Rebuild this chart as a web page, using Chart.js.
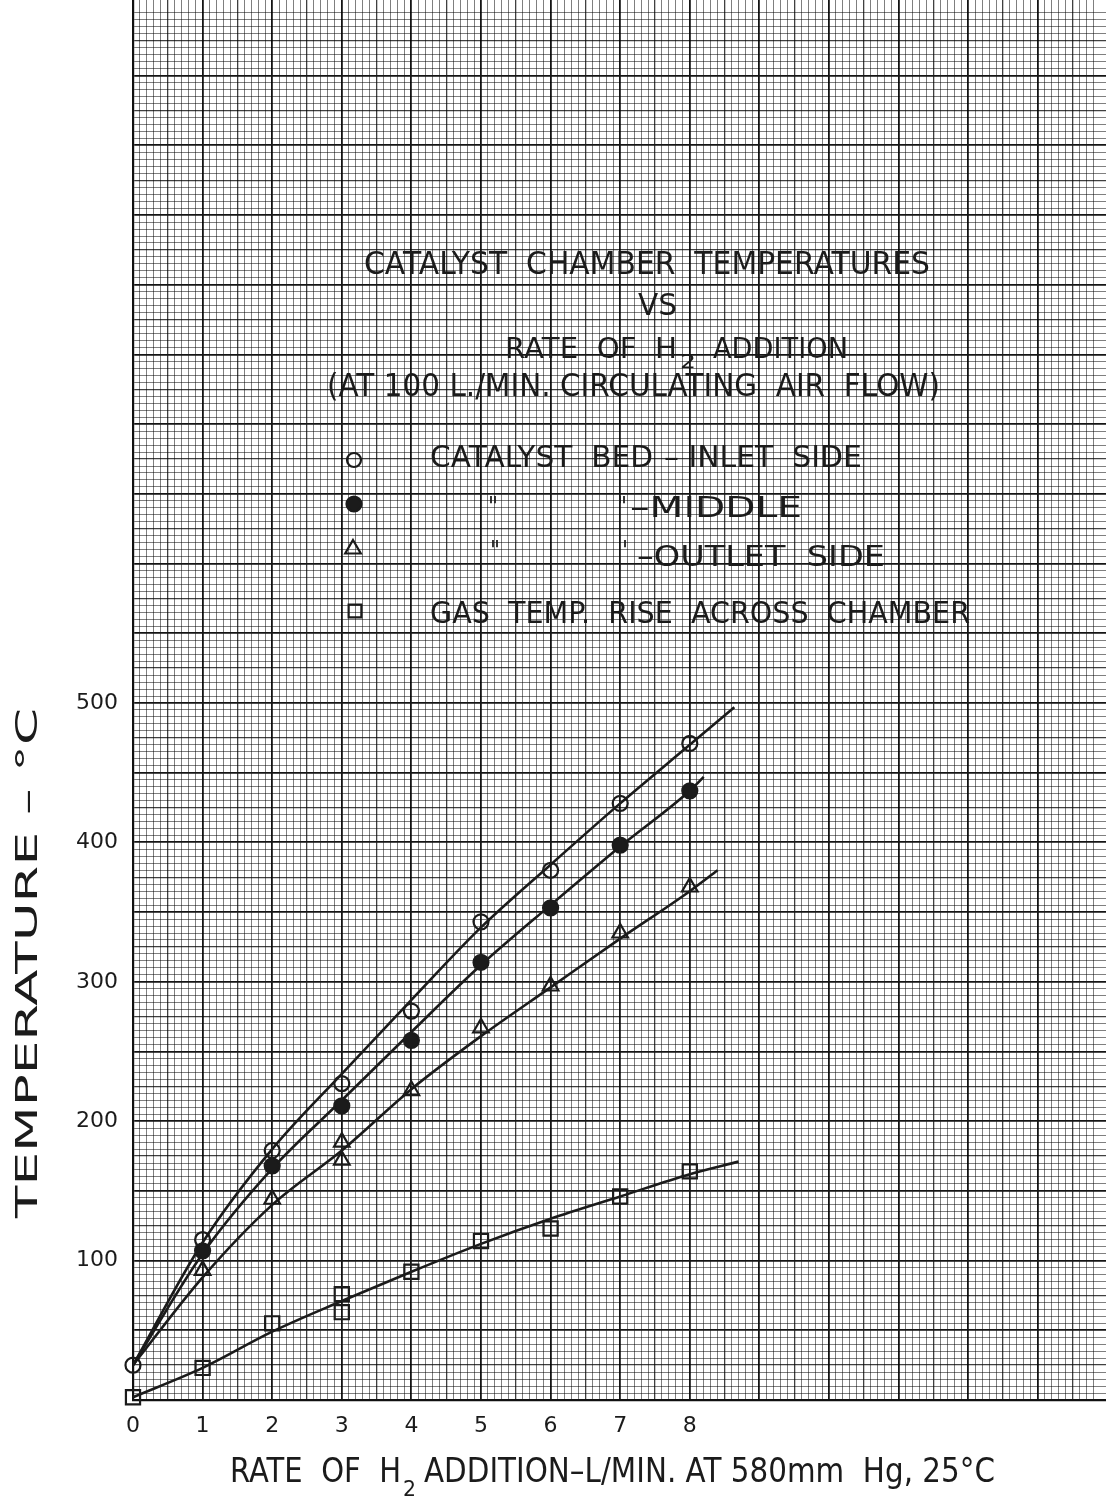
<!DOCTYPE html>
<html><head><meta charset="utf-8">
<script src="https://cdn.jsdelivr.net/npm/chart.js@4.4.0/dist/chart.umd.min.js"></script>
<style>html,body{margin:0;padding:0;background:#fff;}canvas{display:block;}</style>
</head><body>
<canvas id="c" width="1106" height="1497"></canvas>
<script>
// ---- measured points ----
const rateInlet  = [0, 1, 2, 3, 4, 5, 6, 7, 8];
const tempInlet  = [25, 115, 179, 227, 279, 343, 380, 428, 471];
const rateMiddle = [1, 2, 3, 4, 5, 6, 7, 8];
const tempMiddle = [107, 168, 211, 258, 314, 353, 398, 437];
const rateOutlet = [1, 2, 3, 3, 4, 5, 6, 7, 8];
const tempOutlet = [93, 144, 185, 172, 222, 267, 297, 335, 368];
const rateGas    = [0, 1, 2, 3, 3, 4, 5, 6, 7, 8];
const riseGas    = [2, 23, 55, 76, 63, 92, 114, 123, 146, 164];

// ---- hand-faired curves ----
const curveInletX  = [0, 1, 2, 3, 4, 5, 6, 7, 8, 8.64];
const curveInletY  = [25, 113, 180, 234, 287, 339, 384, 428, 470, 497];
const curveMiddleX = [0, 1, 2, 3, 4, 5, 6, 7, 8, 8.2];
const curveMiddleY = [25, 105, 166, 215, 264, 312, 355, 397, 437, 447];
const curveOutletX = [0, 1, 2, 3, 4, 5, 6, 7, 8, 8.4];
const curveOutletY = [25, 88, 140, 179, 223, 261, 296, 331, 365, 380];
const curveGasX    = [0, 1, 2, 3, 4, 5, 6, 7, 8, 8.7];
const curveGasY    = [2, 23, 49, 71, 92, 112, 130, 146, 162, 171];

// ---- tick labels ----
const xTickLabels = ['0', '1', '2', '3', '4', '5', '6', '7', '8'];
const yTickLabels = ['100', '200', '300', '400', '500'];

const INK = '#1b1b1b';
const FONT = '"DejaVu Sans", "Liberation Sans", sans-serif';

const pts = (xs, ys) => xs.map((x, i) => ({x: x, y: ys[i]}));
const near = (v, m) => Math.abs(v / m - Math.round(v / m)) < 1e-6;

function gridColor(v, major, half, minor) {
  if (near(v, major)) return '#151515';
  if (near(v, half)) return 'rgba(0,0,0,0.75)';
  if (near(v, minor)) return 'rgba(0,0,0,0.5)';
  return 'rgba(0,0,0,0)';
}
function gridWidth(v, major, half) {
  if (near(v, major)) return 1.8;
  if (near(v, half)) return 1.3;
  return 1;
}

function curve(xs, ys) {
  return {type: 'line', data: pts(xs, ys), borderColor: INK, borderWidth: 2.6,
    pointRadius: 0, cubicInterpolationMode: 'monotone', fill: false, order: 2};
}
function marks(xs, ys, style, r, fillC) {
  return {type: 'line', data: pts(xs, ys), showLine: false, pointStyle: style,
    pointRadius: r, pointBorderWidth: 2.2, pointBorderColor: INK,
    pointBackgroundColor: fillC, order: 1, clip: false};
}

function drawFit(ctx, text, x0, x1, base, cap) {
  const size = cap / 0.73;
  ctx.save();
  ctx.font = size + 'px ' + FONT;
  ctx.textAlign = 'left';
  ctx.textBaseline = 'alphabetic';
  const w = ctx.measureText(text).width;
  ctx.translate(x0, base);
  ctx.scale((x1 - x0) / w, 1);
  ctx.fillStyle = INK;
  ctx.fillText(text, 0, 0);
  ctx.restore();
}
function drawMark(ctx, style, r, x, y, fillC) {
  ctx.save();
  ctx.strokeStyle = INK;
  ctx.fillStyle = fillC;
  ctx.lineWidth = 2.2;
  Chart.helpers.drawPoint(ctx, {pointStyle: style, radius: r, borderWidth: 2.2, rotation: 0}, x, y);
  ctx.restore();
}

const textPlugin = {
  id: 'lettering',
  afterDraw(chart) {
    const ctx = chart.ctx;
    // title block
    drawFit(ctx, 'CATALYST  CHAMBER  TEMPERATURES', 364, 930, 274, 23);
    drawFit(ctx, 'VS', 638, 677, 315, 22);
    drawFit(ctx, 'RATE  OF  H', 505, 677, 358, 21);
    drawFit(ctx, '2', 680, 696, 368, 14);
    drawFit(ctx, 'ADDITION', 713, 848, 358, 21);
    drawFit(ctx, '(AT 100 L./MIN. CIRCULATING  AIR  FLOW)', 327, 940, 396, 23);
    // legend
    drawMark(ctx, 'circle', 7, 354, 460, 'rgba(0,0,0,0)');
    drawMark(ctx, 'circle', 7.5, 354, 504, INK);
    drawMark(ctx, 'triangle', 9, 353, 549, 'rgba(0,0,0,0)');
    drawMark(ctx, 'rect', 9, 355, 611, 'rgba(0,0,0,0)');
    drawFit(ctx, 'CATALYST  BED', 430, 653, 467, 22);
    drawFit(ctx, '\u2013 INLET  SIDE', 664, 862, 467, 22);
    drawFit(ctx, '"', 488, 498, 516, 20);
    drawFit(ctx, '"', 617, 627, 516, 20);
    drawFit(ctx, '\u2013MIDDLE', 630, 802, 517, 21);
    drawFit(ctx, '"', 490, 500, 560, 20);
    drawFit(ctx, "'", 622, 628, 560, 20);
    drawFit(ctx, '\u2013OUTLET  SIDE', 637, 885, 566, 21);
    drawFit(ctx, 'GAS  TEMP.  RISE  ACROSS  CHAMBER', 430, 970, 623, 22);
    // axis titles
    ctx.save();
    ctx.translate(37, 1218);
    ctx.rotate(-Math.PI / 2);
    drawFit(ctx, 'TEMPERATURE \u2013 \u00B0C', 0, 510, 0, 22);
    ctx.restore();
    drawFit(ctx, 'RATE  OF  H', 230, 401, 1482, 24);
    drawFit(ctx, '2', 403, 416, 1496, 16);
    drawFit(ctx, 'ADDITION\u2013L/MIN. AT 580mm  Hg, 25\u00B0C', 424, 995, 1482, 24);
  }
};

new Chart(document.getElementById('c'), {
  data: {
    datasets: [
      marks(rateInlet, tempInlet, 'circle', 7.5, 'rgba(0,0,0,0)'),
      marks(rateMiddle, tempMiddle, 'circle', 7.5, INK),
      marks(rateOutlet, tempOutlet, 'triangle', 9, 'rgba(0,0,0,0)'),
      marks(rateGas, riseGas, 'rect', 10, 'rgba(0,0,0,0)'),
      curve(curveInletX, curveInletY),
      curve(curveMiddleX, curveMiddleY),
      curve(curveOutletX, curveOutletY),
      curve(curveGasX, curveGasY)
    ]
  },
  options: {
    responsive: false,
    animation: false,
    devicePixelRatio: 1,
    layout: {padding: 0, autoPadding: false},
    plugins: {legend: {display: false}, tooltip: {enabled: false}, title: {display: false}},
    scales: {
      x: {
        type: 'linear', min: 0, max: 13.98,
        afterFit(s) { s.height = 97; s.paddingLeft = 0; s.paddingRight = 0; },
        border: {display: true, color: '#111', width: 2.2},
        grid: {
          drawTicks: false,
          color: c => gridColor(c.tick.value, 1, 0.5, 0.1),
          lineWidth: c => gridWidth(c.tick.value, 1, 0.5)
        },
        ticks: {
          stepSize: 0.1, autoSkip: false, maxRotation: 0, minRotation: 0,
          padding: 13, color: INK, font: {family: FONT, size: 22},
          callback: v => (near(v, 1) && v <= 8.001) ? xTickLabels[Math.round(v)] : ''
        }
      },
      y: {
        type: 'linear', min: 0, max: 1004.3,
        afterFit(s) { s.width = 133; s.paddingTop = 0; s.paddingBottom = 0; },
        border: {display: true, color: '#111', width: 2.2},
        grid: {
          drawTicks: false,
          color: c => gridColor(c.tick.value, 50, 25, 5),
          lineWidth: c => gridWidth(c.tick.value, 50, 25)
        },
        ticks: {
          stepSize: 5, autoSkip: false, padding: 15, color: INK,
          font: {family: FONT, size: 22},
          callback: v => (near(v, 100) && v >= 100 && v <= 500) ? yTickLabels[Math.round(v / 100) - 1] : ''
        }
      }
    }
  },
  plugins: [textPlugin]
});
</script>
</body></html>
